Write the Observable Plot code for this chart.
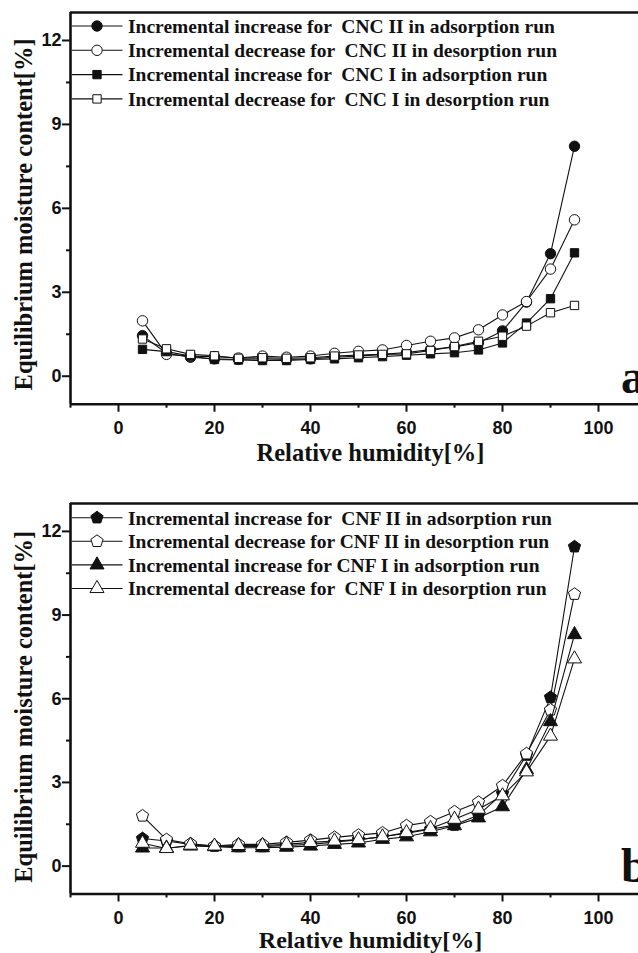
<!DOCTYPE html>
<html><head><meta charset="utf-8">
<script src="https://cdn.jsdelivr.net/npm/d3@7"></script>
<script src="https://cdn.jsdelivr.net/npm/@observablehq/plot@0.6"></script>
<style>
html,body{margin:0;padding:0;background:#fff;overflow:hidden;width:638px;height:953px;}
#pa,#pb{position:absolute;left:0;width:650px;}
#pa{top:0px}#pb{top:491px}
svg{max-width:none !important;}
</style></head><body><div id="pa"></div><div id="pb"></div>
<script>
// ---- data ----
const rh = [5,10,15,20,25,30,35,40,45,50,55,60,65,70,75,80,85,90,95];
const cncIIads = [1.45,0.82,0.68,0.62,0.60,0.62,0.60,0.62,0.68,0.72,0.78,0.85,0.95,1.05,1.20,1.62,2.65,4.38,8.22];
const cncIIdes = [1.98,0.78,0.72,0.70,0.65,0.72,0.68,0.72,0.82,0.89,0.94,1.10,1.25,1.37,1.66,2.19,2.67,3.83,5.59];
const cncIads  = [0.96,0.88,0.72,0.60,0.58,0.56,0.56,0.60,0.62,0.66,0.70,0.75,0.80,0.84,0.94,1.19,1.90,2.77,4.41];
const cncIdes  = [1.33,0.98,0.78,0.73,0.64,0.66,0.64,0.66,0.72,0.76,0.78,0.80,0.92,1.06,1.25,1.43,1.79,2.27,2.53];
const cnfIIads = [0.99,0.90,0.78,0.72,0.70,0.70,0.74,0.78,0.86,0.95,1.05,1.18,1.32,1.47,1.83,2.60,3.98,6.05,11.45];
const cnfIIdes = [1.80,0.95,0.80,0.72,0.78,0.78,0.85,0.93,1.03,1.11,1.19,1.45,1.59,1.95,2.29,2.88,4.03,5.60,9.75];
const cnfIads  = [0.65,0.65,0.72,0.70,0.66,0.66,0.68,0.72,0.78,0.83,0.96,1.05,1.23,1.45,1.73,2.13,3.46,5.18,8.30];
const cnfIdes  = [0.82,0.63,0.75,0.72,0.74,0.74,0.78,0.85,0.90,0.95,1.05,1.20,1.35,1.68,2.04,2.52,3.38,4.66,7.43];
const labelsA = ["Incremental increase for  CNC II in adsorption run","Incremental decrease for  CNC II in desorption run","Incremental increase for  CNC I in adsorption run","Incremental decrease for  CNC I in desorption run"];
const labelsB = ["Incremental increase for  CNF II in adsorption run","Incremental decrease for CNF II in desorption run","Incremental increase for CNF I in adsorption run","Incremental decrease for  CNF I in desorption run"];
const xMajor = [0,20,40,60,80,100];
const xMinor = [-10,10,30,50,70,90,110];
const yMajor = [0,3,6,9,12];
const yMinor = [1.5,4.5,7.5,10.5];
const xTitle = "Relative humidity[%]";
const yTitle = "Equilibrium moisture content[%]";

const pentagon = {draw(ctx, size){
  const R = Math.sqrt(size/2.3776);
  for(let k=0;k<5;k++){const a=-Math.PI/2+k*2*Math.PI/5;const px=R*Math.cos(a),py=R*Math.sin(a);k?ctx.lineTo(px,py):ctx.moveTo(px,py);}
  ctx.closePath();}};

const SERIF = "'Liberation Serif','Times New Roman',serif";
const SANS = "'Liberation Sans',Arial,sans-serif";

function panel(el, series, labels, letter, o){
  const marks = [
    Plot.ruleY([-1],{strokeWidth:2.6}),
    Plot.ruleY([13],{strokeWidth:2.6}),
    Plot.ruleX([-10],{strokeWidth:2.6}),
    Plot.axisX(xMajor,{anchor:"bottom",tickSize:8,tickPadding:9,strokeWidth:2,label:null,fontSize:18,fontWeight:"bold",fontFamily:SANS,fill:"#111"}),
    Plot.axisX(xMinor,{anchor:"bottom",tickSize:4,strokeWidth:2,label:null,text:null}),
    Plot.axisY(yMajor,{anchor:"left",tickSize:8,tickPadding:1,strokeWidth:2,label:null,fontSize:18,fontWeight:"bold",fontFamily:SANS,fill:"#111"}),
    Plot.axisY(yMinor,{anchor:"left",tickSize:4,strokeWidth:2,label:null,text:null}),
    Plot.text([xTitle],{frameAnchor:"bottom",dx:12,dy:o.xTitleDy,text:d=>d,fontSize:o.xTitleSize,fontWeight:"bold",fontFamily:SERIF,lineAnchor:"middle",textAnchor:"middle",fill:"#111"}),
    Plot.text([yTitle],{frameAnchor:"left",dx:-46,dy:o.yTitleDy,rotate:-90,text:d=>d,fontSize:24.5,fontWeight:"bold",fontFamily:SERIF,lineAnchor:"middle",textAnchor:"middle",fill:"#111"})
  ];
  series.forEach(s=>{
    const data = rh.map((x,i)=>({x, y:s.values[i]}));
    marks.push(Plot.line(data,{x:"x",y:"y",stroke:"#111",strokeWidth:1.1}));
    marks.push(Plot.dot(data,{x:"x",y:"y",symbol:s.symbol,r:s.r,fill:s.filled?"#111":"white",stroke:"#111",strokeWidth:1}));
  });
  const svg = Plot.plot({
    width:650, height:o.height,
    marginTop:12, marginBottom:o.marginBottom, marginLeft:70, marginRight:4,
    x:{domain:[-10,110]}, y:{domain:[-1,13]},
    style:{background:"white",color:"#111",overflow:"visible",maxWidth:"none"},
    marks
  });
  // legend and panel letter
  const g = d3.select(svg).append("g").attr("text-anchor","start");
  series.forEach((s,i)=>{
    const yy = o.legendTop+i*o.legendStep;
    g.append("line").attr("x1",72).attr("x2",122.5).attr("y1",yy).attr("y2",yy).attr("stroke","#111").attr("stroke-width",1.1);
    const size = Math.PI*s.r*s.r;
    const sym = s.symbol==="circle"?d3.symbolCircle:s.symbol==="square"?d3.symbolSquare:s.symbol==="triangle"?d3.symbolTriangle:pentagon;
    g.append("path").attr("d",d3.symbol(sym,size)()).attr("transform",`translate(97,${yy})`)
      .attr("fill",s.filled?"#111":"white").attr("stroke","#111").attr("stroke-width",1);
    g.append("text").attr("x",128).attr("y",yy).attr("dy","0.35em").text(labels[i])
      .attr("font-family",SERIF).attr("font-weight","bold").attr("font-size",19.5).attr("fill","#111")
      .style("white-space","pre");
  });
  g.append("text").attr("x",621).attr("y",o.letterY).text(letter)
    .attr("font-family",SERIF).attr("font-weight","bold").attr("font-size",48).attr("fill","#111");
  document.getElementById(el).appendChild(svg);
}

panel("pa",[
  {values:cncIIads,symbol:"circle",r:5.2,filled:true},
  {values:cncIIdes,symbol:"circle",r:5.2,filled:false},
  {values:cncIads,symbol:"square",r:4.7,filled:true},
  {values:cncIdes,symbol:"square",r:4.7,filled:false}
],labelsA,"a",{height:476,marginBottom:72.3,xTitleDy:49,xTitleSize:24.5,yTitleDy:6,letterY:393,legendTop:26,legendStep:24.3});

panel("pb",[
  {values:cnfIIads,symbol:pentagon,r:5.6,filled:true},
  {values:cnfIIdes,symbol:pentagon,r:5.6,filled:false},
  {values:cnfIads,symbol:"triangle",r:5.2,filled:true},
  {values:cnfIdes,symbol:"triangle",r:5.2,filled:false}
],labelsB,"b",{height:462,marginBottom:59.5,xTitleDy:46,xTitleSize:24,yTitleDy:8,letterY:391,legendTop:26.7,legendStep:23.6});
</script></body></html>
